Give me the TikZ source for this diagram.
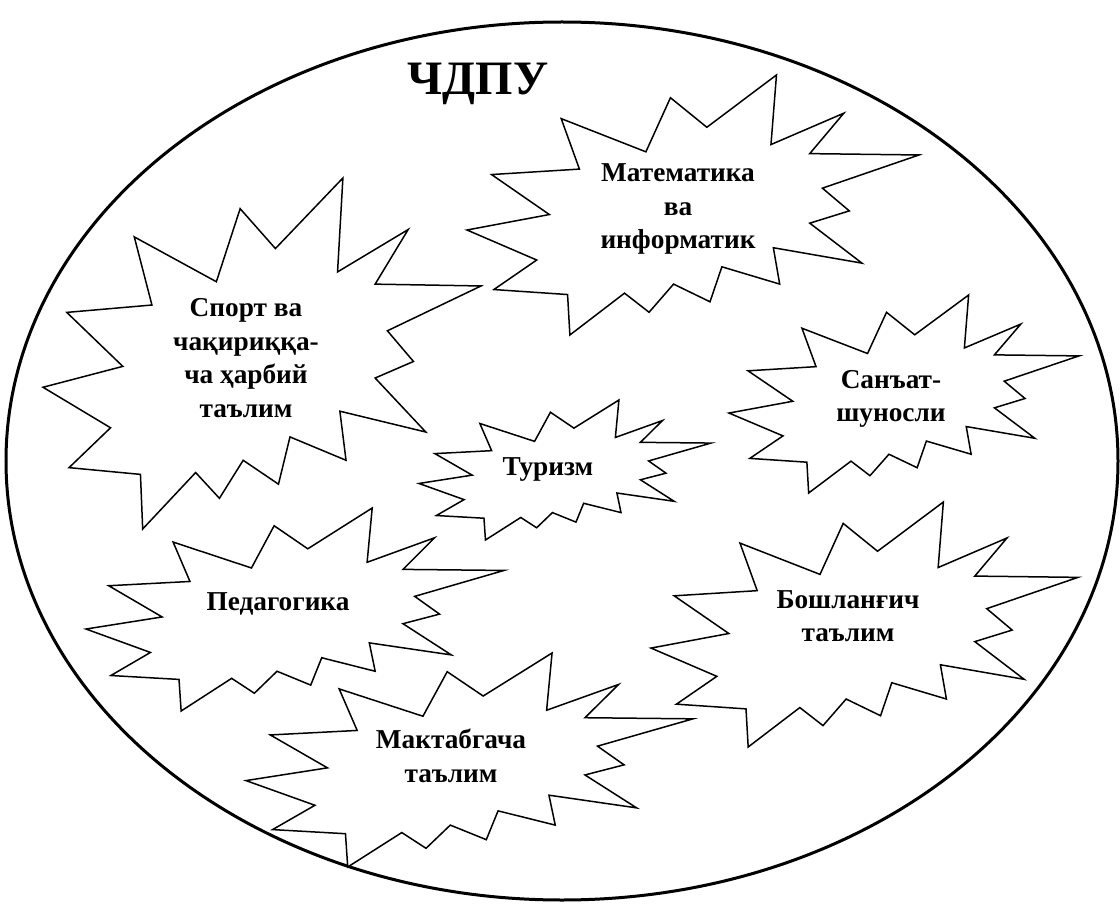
\documentclass[tikz,border=0pt]{standalone}
\usepackage{fontspec}
\setmainfont{Liberation Serif}
\tikzset{
  burstline/.style={draw=black, line width=1.5pt, fill=white, line join=miter},
  outerline/.style={draw=black, line width=3pt},
  lbl/.style={font=\bfseries\fontsize{27.3}{33.5}\selectfont, align=center, inner sep=0pt},
  titlelbl/.style={font=\bfseries\fontsize{48}{50}\selectfont, inner sep=0pt, anchor=base},
}
% Explosion shape: left, top, width, height (pixels)
\newcommand\burstshape[4]{%
  \begin{scope}[shift={(#1,#2)}, x=#3pt, y=-#4pt]
    \path[burstline] (0.5306,0.2010) -- (0.6847,0) -- (0.6725,0.2675) -- (0.8337,0.1469)
      -- (0.7583,0.3024) -- (1,0.3076) -- (0.7863,0.4353) -- (0.8458,0.5227)
      -- (0.7583,0.5699) -- (0.8739,0.7237) -- (0.6778,0.6644) -- (0.6918,0.8042)
      -- (0.5639,0.7377) -- (0.5376,0.8723) -- (0.4570,0.8042) -- (0.4028,0.9126)
      -- (0.3485,0.8391) -- (0.2276,1) -- (0.2225,0.8444) -- (0.0595,0.8252)
      -- (0.1542,0.7116) -- (0,0.5962) -- (0.1822,0.5367) -- (0.0543,0.3829)
      -- (0.2487,0.3619) -- (0.2084,0.1678) -- (0.3958,0.2955) -- (0.4501,0.0874) -- cycle;
  \end{scope}}
\begin{document}
\begin{tikzpicture}[x=1pt, y=-1pt]
\useasboundingbox (0,0) rectangle (1120,904);
\path[outerline] (562,461) ellipse [x radius=556pt, y radius=439pt];

\burstshape{467}{75}{452}{260}
\burstshape{43}{178}{438}{351}
\burstshape{729}{295}{350}{198}
\burstshape{419}{400}{292}{140}
\burstshape{86}{508}{418}{203}
\burstshape{651}{502}{427}{245}
\burstshape{246}{653}{447}{214}

\node[titlelbl] (title) at (478,95) {ЧДПУ};
\node[lbl] (math) at (678,209) {Математика\\ва\\информатик};
\node[lbl] (sport) at (246,358) {Спорт ва\\чақириққа-\\ча ҳарбий\\таълим};
\node[lbl] (sanat) at (891,399) {Санъат-\\шуносли};
\node[lbl, anchor=base] (turizm) at (548,475) {Туризм};
\node[lbl, anchor=base] (pedagog) at (278,610) {Педагогика};
\node[lbl] (boshl) at (848,616) {Бошланғич\\таълим};
\node[lbl] (maktab) at (451,756) {Мактабгача\\таълим};
\end{tikzpicture}
\end{document}
